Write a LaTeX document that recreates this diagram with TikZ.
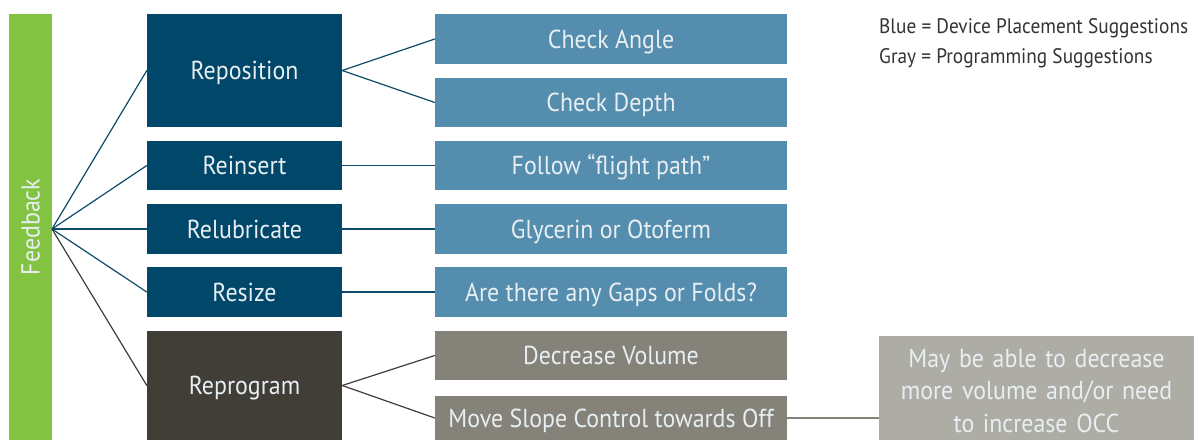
\documentclass[tikz,border=0pt]{standalone}
\usepackage{fontspec}
\setmainfont{PT Sans}[FakeStretch=0.92]
\definecolor{fbgreen}{HTML}{82C341}
\definecolor{darkblue}{HTML}{00476A}
\definecolor{lightblue}{HTML}{548DAD}
\definecolor{darkgray}{HTML}{413D37}
\definecolor{midgray}{HTML}{848279}
\definecolor{palegray}{HTML}{ADADA6}
\definecolor{boxtext}{HTML}{E8EFF2}
\definecolor{bluelink}{HTML}{0D4A6B}
\definecolor{graylink}{HTML}{403D38}

\begin{document}
\begin{tikzpicture}[x=1pt,y=-1pt,
  plainbox/.style={rectangle,inner sep=0pt,text=boxtext,font=\fontsize{26}{32.5}\selectfont},
  box/.style={plainbox,text height=18pt,text depth=0pt},
  leftbox/.style={box,minimum width=195pt},
  rightbox/.style={box,minimum width=352pt,minimum height=50pt,fill=lightblue},
  legendtext/.style={anchor=base west,inner sep=0pt,text=black!80,font=\fontsize{21}{30}\selectfont},
  bluelink/.style={draw=bluelink,line width=1.2pt},
  graylink/.style={draw=graylink,line width=1.2pt}]
\useasboundingbox (0,0) rectangle (1194,440);
% green feedback bar
\node[box,fill=fbgreen,rotate=90,minimum width=426pt,minimum height=43pt] (fb) at (30.5,227) {Feedback};
\coordinate (fan) at (52,229);
% left column
\node[leftbox,fill=darkblue,minimum height=113pt] (repo) at (244.5,70.5) {Reposition};
\node[leftbox,fill=darkblue,minimum height=49pt] (reins) at (244.5,165.5) {Reinsert};
\node[leftbox,fill=darkblue,minimum height=50pt] (relub) at (244.5,229) {Relubricate};
\node[leftbox,fill=darkblue,minimum height=50pt] (resize) at (244.5,292) {Resize};
\node[leftbox,fill=darkgray,minimum height=109pt] (reprog) at (244.5,385.5) {Reprogram};
% right column
\node[rightbox] (angle) at (611,39) {Check Angle};
\node[rightbox,minimum height=49pt] (depth) at (611,102.5) {Check Depth};
\node[rightbox,minimum height=49pt] (flight) at (611,165.5) {Follow “flight path”};
\node[rightbox] (glyc) at (611,229) {Glycerin or Otoferm};
\node[rightbox] (gaps) at (611,292) {Are there any Gaps or Folds?};
\node[rightbox,fill=midgray,minimum height=49pt] (vol) at (611,355.5) {Decrease Volume};
\node[rightbox,fill=midgray,minimum height=44pt] (slope) at (611,418) {Move Slope Control towards Off};
% note box
\node[plainbox,fill=palegray,text height=24pt,minimum width=315pt,minimum height=104pt,text width=315pt,align=center] (occ) at (1036.5,388)
  {May be able to decrease\\more volume and/or need\\to increase OCC};
% legend
\node[legendtext] (legend) at (879,33) {Blue = Device Placement Suggestions};
\node[legendtext] (legend2) at (879,63) {Gray = Programming Suggestions};
% connectors
\draw[bluelink] (fan) -- (repo.west);
\draw[bluelink] (fan) -- (reins.west);
\draw[bluelink] (fan) -- (relub.west);
\draw[bluelink] (fan) -- (resize.west);
\draw[graylink] (fan) -- (reprog.west);
\draw[bluelink] (repo.east) -- (angle.west);
\draw[bluelink] (repo.east) -- (depth.west);
\draw[bluelink] (reins.east) -- (flight.west);
\draw[bluelink] (relub.east) -- (glyc.west);
\draw[bluelink] (resize.east) -- (gaps.west);
\draw[graylink] (reprog.east) -- (vol.west);
\draw[graylink] (reprog.east) -- (slope.west);
\draw[draw=midgray,line width=1.8pt] (slope.east) -- (slope.east -| occ.west);
\end{tikzpicture}
\end{document}
